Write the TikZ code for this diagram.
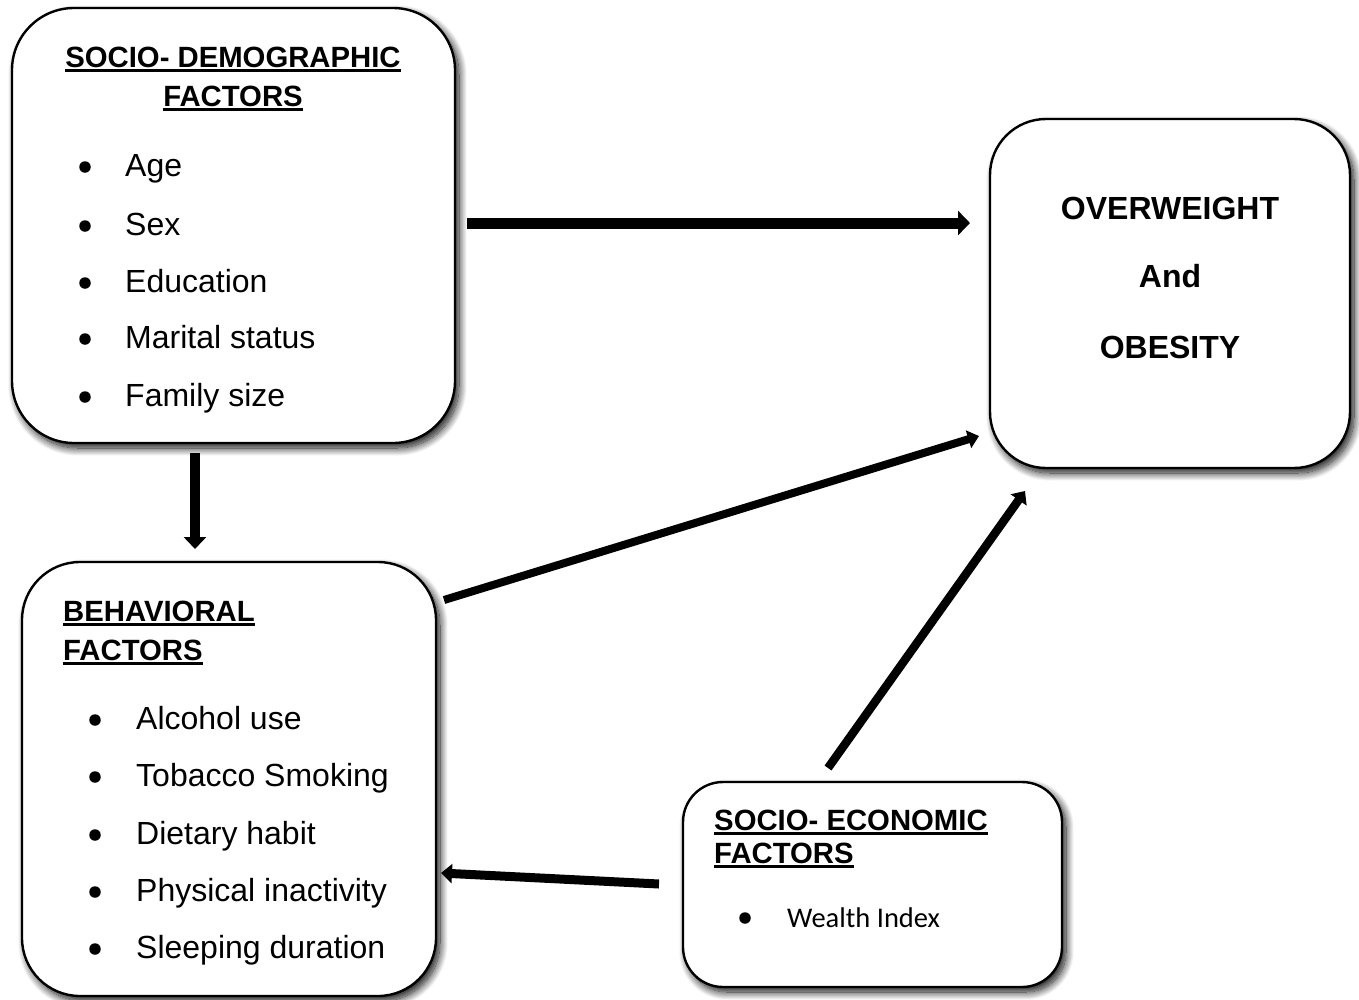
\documentclass[tikz,border=0pt]{standalone}
\usepackage{fontspec}
\setmainfont{Liberation Sans}
\newfontfamily\calib{Carlito}
\usetikzlibrary{arrows.meta,shadows.blur}
\newcommand\ulin[1]{\setbox0\hbox{#1}\rlap{\rule[-4.5pt]{\wd0}{2.3pt}}\box0}
\begin{document}
\begin{tikzpicture}[x=1pt,y=-1pt,
  box/.style={draw, line width=2.4pt, fill=white, inner sep=0pt, outer sep=0pt,
    blur shadow={shadow xshift=4pt, shadow yshift=-5pt, shadow blur radius=8pt, shadow blur steps=16, shadow opacity=95}},
  ttl/.style={font=\bfseries\fontsize{29.3}{34}\selectfont, inner sep=0pt, anchor=base},
  itm/.style={font=\fontsize{32}{36}\selectfont, inner sep=0pt, anchor=base west},
  bul/.style={circle, fill=black, draw=none, inner sep=0pt, minimum size=11.5pt},
  big/.style={font=\bfseries\fontsize{32}{36}\selectfont, inner sep=0pt, anchor=base},
  arr/.style={line width=#1, draw=black},
]
\useasboundingbox (0,0) rectangle (1359,999);
% boxes
\node[box, rounded corners=62pt, minimum width=443pt, minimum height=435pt] (sd) at (233.5,225.5) {};
\node[box, rounded corners=56pt, minimum width=360pt, minimum height=349pt] (ow) at (1170,293.5) {};
\node[box, rounded corners=58pt, minimum width=414pt, minimum height=434pt] (bf) at (229,779) {};
\node[box, rounded corners=40pt, minimum width=379pt, minimum height=205pt] (se) at (872.5,884.5) {};
% socio-demographic text
\node[ttl] (sdt1) at (233,67) {\ulin{SOCIO- DEMOGRAPHIC}};
\node[ttl] (sdt2) at (233,106) {\ulin{FACTORS}};
\node[bul] (sdb1) at (85,167) {}; \node[itm] (sdi1) at (125,176) {Age};
\node[bul] (sdb2) at (85,226) {}; \node[itm] (sdi2) at (125,235) {Sex};
\node[bul] (sdb3) at (85,283) {}; \node[itm] (sdi3) at (125,292) {Education};
\node[bul] (sdb4) at (85,339) {}; \node[itm] (sdi4) at (125,348) {Marital status};
\node[bul] (sdb5) at (85,397) {}; \node[itm] (sdi5) at (125,406) {Family size};
% overweight text
\node[big] (ow1) at (1170,219) {OVERWEIGHT};
\node[big] (ow2) at (1170,287) {And};
\node[big] (ow3) at (1170,358) {OBESITY};
% behavioral text
\node[ttl, anchor=base west] (bft1) at (63,621) {\ulin{BEHAVIORAL}};
\node[ttl, anchor=base west] (bft2) at (63,660) {\ulin{FACTORS}};
\node[bul] (bfb1) at (95,720) {}; \node[itm] (bfi1) at (136,729) {Alcohol use};
\node[bul] (bfb2) at (95,777) {}; \node[itm] (bfi2) at (136,786) {Tobacco Smoking};
\node[bul] (bfb3) at (95,835) {}; \node[itm] (bfi3) at (136,844) {Dietary habit};
\node[bul] (bfb4) at (95,892) {}; \node[itm] (bfi4) at (136,901) {Physical inactivity};
\node[bul] (bfb5) at (95,949) {}; \node[itm] (bfi5) at (136,958) {Sleeping duration};
% socio-economic text
\node[ttl, anchor=base west] (set1) at (714,830) {\ulin{SOCIO- ECONOMIC}};
\node[ttl, anchor=base west] (set2) at (714,863) {\ulin{FACTORS}};
\node[bul] (seb1) at (745,918) {};
\node[font=\calib\fontsize{28.5}{32}\selectfont, inner sep=0pt, anchor=base west] (sei1) at (787,927) {Wealth Index};
% arrow end coordinates
\coordinate (a1s) at (467,223); \coordinate (a1e) at (970,223);
\coordinate (a2s) at (195,453); \coordinate (a2e) at (195,549);
\coordinate (a3s) at (444,600); \coordinate (a3e) at (979,436);
\coordinate (a4s) at (828,768); \coordinate (a4e) at (1025,491);
\coordinate (a5s) at (659,884); \coordinate (a5e) at (441,873);
\draw[arr=11pt, -{Triangle[length=12pt,width=24pt]}] (a1s) -- (a1e);
\draw[arr=10pt, -{Triangle[length=12pt,width=22pt]}] (a2s) -- (a2e);
\draw[arr=8pt, -{Triangle[length=11pt,width=18pt]}] (a3s) -- (a3e);
\draw[arr=8.5pt, -{Triangle[length=11pt,width=19pt]}] (a4s) -- (a4e);
\draw[arr=9pt, -{Triangle[length=11pt,width=19pt]}] (a5s) -- (a5e);
\end{tikzpicture}
\end{document}
